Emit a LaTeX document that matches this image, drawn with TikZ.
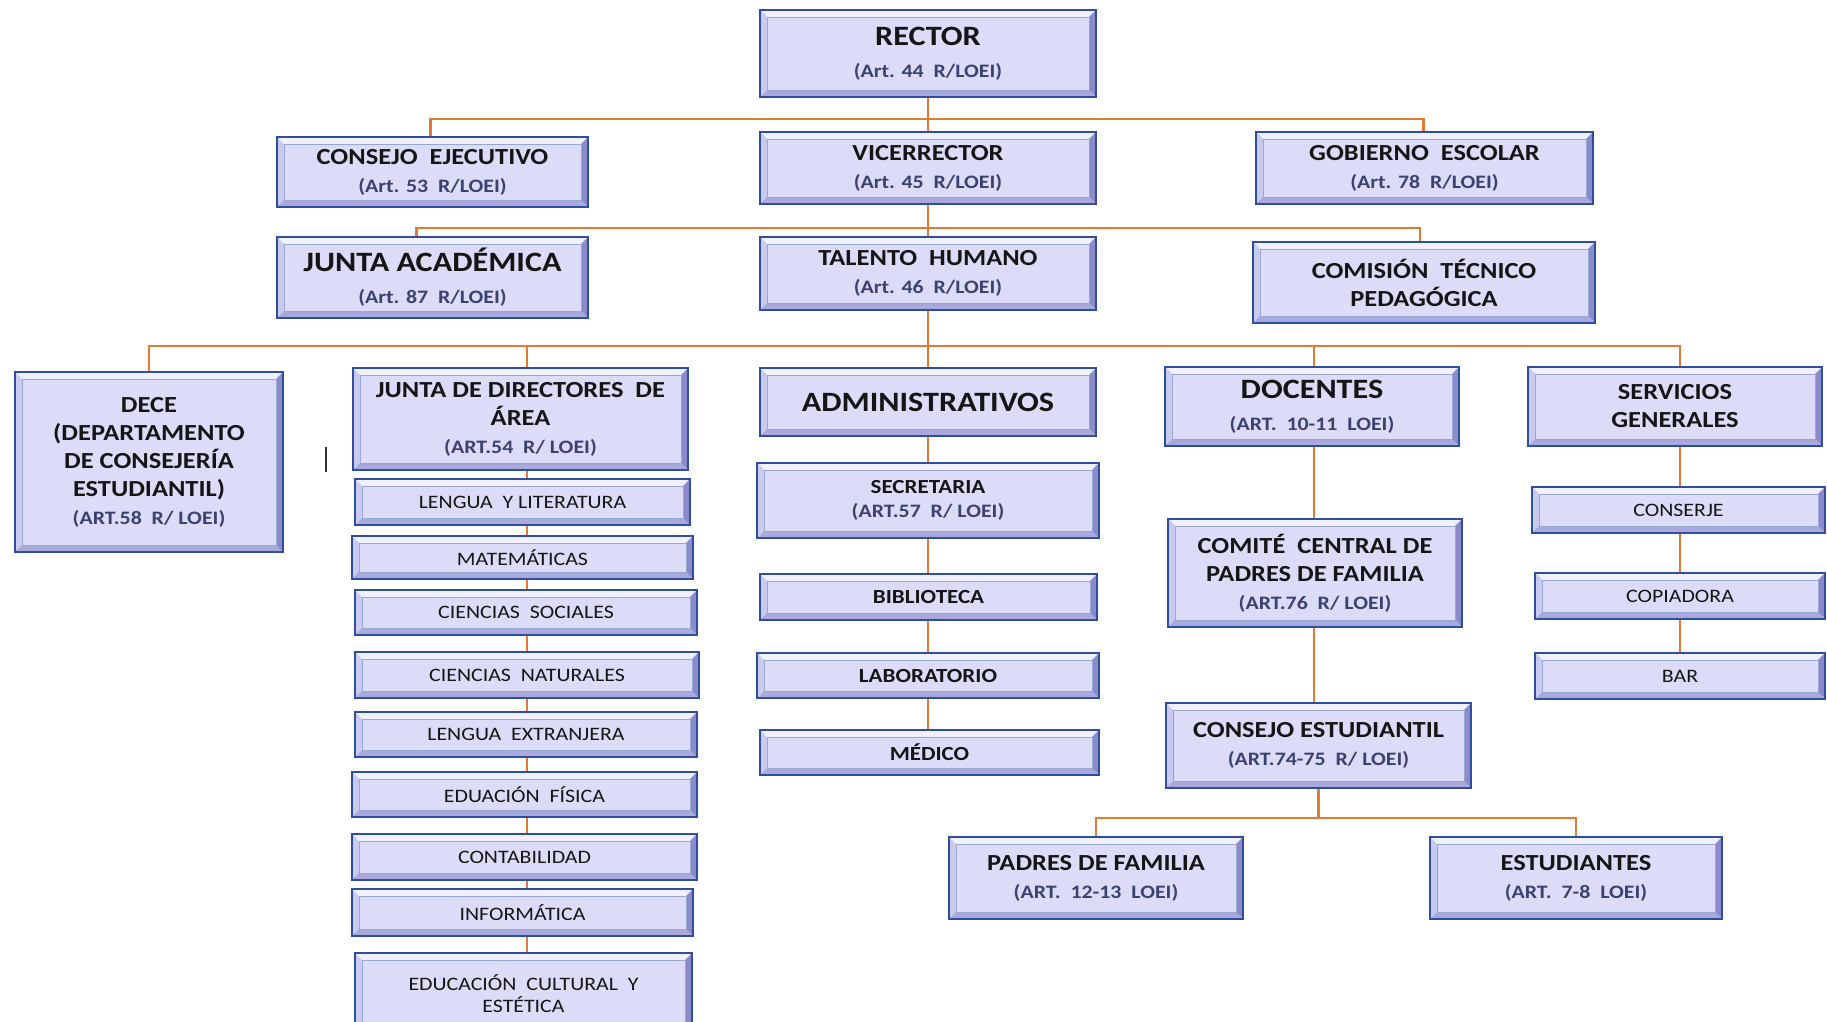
\documentclass[tikz,border=0pt]{standalone}
\usepackage{fontspec}
\setmainfont{Carlito}[FakeStretch=1.15]

\definecolor{boxfill}{HTML}{DCDCF8}
\definecolor{boxline}{HTML}{2F4E9E}
\definecolor{bevtop}{HTML}{F0F0FE}
\definecolor{bevleft}{HTML}{C9CAF0}
\definecolor{bevright}{HTML}{8A8ACD}
\definecolor{bevbot}{HTML}{A9A9DE}
\definecolor{linkcol}{HTML}{E37A33}
\definecolor{artcol}{HTML}{3A4270}
\definecolor{ink}{HTML}{151515}

\newcommand{\art}[1]{{\fontsize{19}{22}\selectfont\bfseries\color{artcol}#1}}

\tikzset{
  org/.style={draw=boxline, line width=1.8pt, fill=boxfill, align=center,
    inner sep=2pt, text=ink,
    path picture={
      \path (path picture bounding box.north west) coordinate (bnw)
            (path picture bounding box.north east) coordinate (bne)
            (path picture bounding box.south west) coordinate (bsw)
            (path picture bounding box.south east) coordinate (bse);
      \fill[bevtop] (bnw) -- (bne) -- ([shift={(-7pt,-7pt)}]bne) -- ([shift={(7pt,-7pt)}]bnw) -- cycle;
      \fill[bevleft] (bnw) -- (bsw) -- ([shift={(7pt,7pt)}]bsw) -- ([shift={(7pt,-7pt)}]bnw) -- cycle;
      \fill[bevright] (bne) -- (bse) -- ([shift={(-7pt,7pt)}]bse) -- ([shift={(-7pt,-7pt)}]bne) -- cycle;
      \fill[bevbot] (bsw) -- (bse) -- ([shift={(-7pt,7pt)}]bse) -- ([shift={(7pt,7pt)}]bsw) -- cycle;
      \draw[boxline!50, line width=0.6pt] ([shift={(7pt,-7pt)}]bnw) rectangle ([shift={(-7pt,7pt)}]bse);
    }},
  sz/.style 2 args={minimum width=#1pt, minimum height=#2pt},
  link/.style={draw=linkcol, line width=2.2pt},
  tA/.style={font=\fontsize{28}{32}\selectfont\bfseries},
  tB/.style={font=\fontsize{23}{28}\selectfont\bfseries},
  tC/.style={font=\fontsize{20}{24}\selectfont\bfseries},
  tD/.style={font=\fontsize{19}{22}\selectfont},
}

\begin{document}
\begin{tikzpicture}[x=1pt,y=-1pt]
  \useasboundingbox (0,0) rectangle (1827,1021);
  \clip (0,0) rectangle (1827,1021);
  \fill[white] (0,0) rectangle (1827,1021);

  % direccion
  \node[org,tA,sz={336}{87}] (rector) at (928,53.5) {RECTOR\\\art{(Art. 44 \ R/LOEI)}};
  \node[org,tB,sz={311}{70}] (consejo) at (432.5,172) {CONSEJO \ EJECUTIVO\\\art{(Art. 53 \ R/LOEI)}};
  \node[org,tB,sz={336}{72}] (vice) at (928,168) {VICERRECTOR\\\art{(Art. 45 \ R/LOEI)}};
  \node[org,tB,sz={337}{72}] (gobierno) at (1424.5,168) {GOBIERNO \ ESCOLAR\\\art{(Art. 78 \ R/LOEI)}};
  \node[org,tA,sz={311}{81}] (juntaac) at (432.5,277.5) {JUNTA ACADÉMICA\\\art{(Art. 87 \ R/LOEI)}};
  \node[org,tB,sz={336}{73}] (talento) at (928,273.5) {TALENTO \ HUMANO\\\art{(Art. 46 \ R/LOEI)}};
  \node[org,tB,sz={342}{81}] (comision) at (1424,282.5) {COMISIÓN \ TÉCNICO\\PEDAGÓGICA};

  % areas
  \node[org,tB,sz={268}{180}] (dece) at (149,462) {DECE\\(DEPARTAMENTO\\DE CONSEJERÍA\\ESTUDIANTIL)\\\art{(ART.58 \ R/ LOEI)}};
  \node[org,tB,sz={335}{102}] (juntadir) at (520.5,419) {JUNTA DE DIRECTORES \ DE\\ÁREA\\\art{(ART.54 \ R/ LOEI)}};
  \node[org,tA,sz={336}{68}] (admin) at (928,402) {ADMINISTRATIVOS};
  \node[org,tA,sz={294}{79}] (docentes) at (1312,406.5) {DOCENTES\\\art{(ART. \ 10-11 \ LOEI)}};
  \node[org,tB,sz={294}{79}] (servicios) at (1675,406.5) {SERVICIOS\\GENERALES};

  % juntas de area
  \node[org,tD,sz={335}{46}] (lengua) at (522.5,502) {LENGUA \ Y LITERATURA};
  \node[org,tD,sz={341}{43}] (mate) at (522.5,557.5) {MATEMÁTICAS};
  \node[org,tD,sz={342}{45}] (sociales) at (526,612.5) {CIENCIAS \ SOCIALES};
  \node[org,tD,sz={344}{46}] (naturales) at (527,675) {CIENCIAS \ NATURALES};
  \node[org,tD,sz={342}{45}] (extranjera) at (526,734.5) {LENGUA \ EXTRANJERA};
  \node[org,tD,sz={345}{45}] (fisica) at (524.5,794.5) {EDUACIÓN \ FÍSICA};
  \node[org,tD,sz={345}{46}] (contab) at (524.5,857) {CONTABILIDAD};
  \node[org,tD,sz={341}{47}] (informatica) at (522.5,912.5) {INFORMÁTICA};
  \node[org,tD,sz={337}{82}] (cultural) at (523.5,994) {EDUCACIÓN \ CULTURAL \ Y\\ESTÉTICA};

  \node[org,tC,sz={342}{75}] (secretaria) at (928,500.5) {SECRETARIA\\\art{(ART.57 \ R/ LOEI)}};
  \node[org,tC,sz={337}{46}] (biblio) at (928.5,597) {BIBLIOTECA};
  \node[org,tC,sz={342}{45}] (lab) at (928,675.5) {LABORATORIO};
  \node[org,tC,sz={339}{45}] (medico) at (929.5,752.5) {MÉDICO};

  \node[org,tB,sz={294}{108}] (comite) at (1315,573) {COMITÉ \ CENTRAL DE\\PADRES DE FAMILIA\\\art{(ART.76 \ R/ LOEI)}};
  \node[org,tB,sz={305}{85}] (consejoest) at (1318.5,745.5) {CONSEJO ESTUDIANTIL\\\art{(ART.74-75 \ R/ LOEI)}};
  \node[org,tB,sz={294}{82}] (padres) at (1096,878) {PADRES DE FAMILIA\\\art{(ART. \ 12-13 \ LOEI)}};
  \node[org,tB,sz={292}{82}] (estudiantes) at (1576,878) {ESTUDIANTES\\\art{(ART. \ 7-8 \ LOEI)}};

  \node[org,tD,sz={293}{46}] (conserje) at (1678.5,510) {CONSERJE};
  \node[org,tD,sz={290}{46}] (copiadora) at (1680,596) {COPIADORA};
  \node[org,tD,sz={290}{46}] (bar) at (1680,676) {BAR};

  % conectores
  \coordinate (j1) at ([yshift=-21pt]rector.south);
  \coordinate (j2) at ([yshift=-23pt]vice.south);
  \coordinate (j3) at ([yshift=-35pt]talento.south);
  \coordinate (j5) at ([yshift=-29pt]consejoest.south);
  \coordinate (colA) at (527,0);
  \coordinate (colB) at (928,0);
  \coordinate (colC) at (1314,0);
  \coordinate (colD) at (1680,0);

  \draw[link] (rector.south) -- (vice.north);
  \draw[link] ([xshift=-2pt]consejo.north) |- (j1) -| ([xshift=-1pt]gobierno.north);
  \draw[link] (vice.south) -- (talento.north);
  \draw[link] ([xshift=-16pt]juntaac.north) |- (j2) -| ([xshift=-4pt]comision.north);
  \draw[link] (talento.south) -- (admin.north);
  \draw[link] (dece.north) |- (j3) -| ([xshift=5pt]servicios.north);
  \draw[link] (juntadir.north -| colA) -- (j3 -| colA);
  \draw[link] (docentes.north -| colC) -- (j3 -| colC);

  \foreach \a/\b in {juntadir/lengua, lengua/mate, mate/sociales, sociales/naturales,
                     naturales/extranjera, extranjera/fisica, fisica/contab,
                     contab/informatica, informatica/cultural}
    \draw[link] (\a.south -| colA) -- (\b.north -| colA);
  \foreach \a/\b in {admin/secretaria, secretaria/biblio, biblio/lab, lab/medico}
    \draw[link] (\a.south -| colB) -- (\b.north -| colB);
  \foreach \a/\b in {docentes/comite, comite/consejoest}
    \draw[link] (\a.south -| colC) -- (\b.north -| colC);
  \foreach \a/\b in {servicios/conserje, conserje/copiadora, copiadora/bar}
    \draw[link] (\a.south -| colD) -- (\b.north -| colD);

  \draw[link] (consejoest.south) -- (j5);
  \draw[link] (padres.north) |- (j5) -| (estudiantes.north);

  \draw[line width=2pt, black!80] (326,447) -- (326,472);
\end{tikzpicture}
\end{document}
